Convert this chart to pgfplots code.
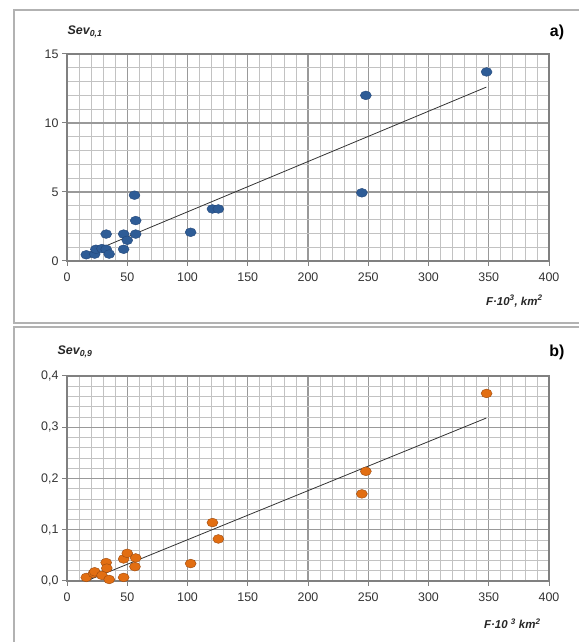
\documentclass[border=0pt]{standalone}
\usepackage{pgfplots}
\pgfplotsset{compat=1.18}
\usepackage{fontspec}
\setmainfont{Liberation Sans}
\definecolor{ptblue}{HTML}{2E5C96}
\definecolor{ptblueD}{HTML}{24487A}
\definecolor{ptorange}{HTML}{E26E12}
\definecolor{ptorangeD}{HTML}{9A4A10}
\pgfplotsset{
  panel/.style={
    scale only axis, width=482bp,
    xmin=0, xmax=400, xtick={0,50,...,400}, minor x tick num=4,
    grid=both,
    major grid style={black!40, line width=1.2bp},
    minor grid style={black!24, line width=0.8bp},
    axis line style={black!50, line width=1.2bp},
    tick align=outside, xtick pos=left, ytick pos=left,
    major tick length=5bp, minor tick length=0pt,
    major tick style={black!50, line width=1bp},
    tick label style={font=\fontsize{12.5}{14}\selectfont, text=black!80},
    /pgf/number format/assume math mode=true,
    xticklabel style={yshift=-3bp},
    clip=false,
  }
}
\begin{document}
\begin{tikzpicture}[x=1bp,y=1bp]
\useasboundingbox (0,0) rectangle (579,642);
% panel frames
\draw[black!30, line width=2.2bp] (14,632) rectangle (590,319);
\draw[black!30, line width=2.2bp] (14,315) rectangle (590,-10);
% ---------- panel a ----------
\begin{axis}[panel, at={(67bp,381bp)}, anchor=south west, height=207bp,
  ymin=0, ymax=15, ytick={0,5,10,15}, minor y tick num=4]
\addplot[black!80, line width=0.8bp] coordinates {(16,0.5) (348,12.6)};
\addplot[only marks, mark=*, mark size=4.4bp,
  mark options={fill=ptblue, draw=ptblueD, xscale=1.25}] coordinates {
(16,0.45) (23,0.5) (24,0.85) (29,0.9) (32.5,1.95) (32.5,0.85) (35,0.5)
(47,0.85) (47,1.95) (50,1.5) (56,4.77) (57,2.93) (57,1.95)
(102.6,2.08) (120.7,3.77) (125.6,3.77) (244.7,4.94) (248,12.0) (348.2,13.7)
};
\end{axis}
\node[anchor=center, font=\fontsize{12.5}{14}\selectfont\bfseries\itshape, text=black!85] at (85,610) {Sev\textsubscript{0,1}};
\node[anchor=center, font=\fontsize{16}{18}\selectfont\bfseries] at (557,610) {a)};
\node[anchor=east, font=\fontsize{11.5}{13}\selectfont\bfseries\itshape, text=black!85] at (546,341) {F·10\textsuperscript{3}, km\textsuperscript{2}};
% ---------- panel b ----------
\begin{axis}[panel, at={(67bp,61bp)}, anchor=south west, height=205bp,
  ymin=0, ymax=0.4, ytick={0,0.1,0.2,0.3,0.4}, minor y tick num=4,
  yticklabel style={/pgf/number format/.cd, fixed, fixed zerofill, precision=1, use comma}]
\addplot[black!80, line width=0.8bp] coordinates {(16,0.0) (348,0.318)};
\addplot[only marks, mark=*, mark size=4.4bp,
  mark options={fill=ptorange, draw=ptorangeD, xscale=1.25}] coordinates {
(16,0.007) (22,0.015) (23,0.018) (29,0.011) (32.5,0.036) (33,0.025) (35,0.003)
(47,0.007) (47,0.043) (50,0.054) (57,0.045) (56.4,0.028)
(102.6,0.034) (120.7,0.114) (125.6,0.082) (244.7,0.170) (248,0.214) (348.2,0.366)
};
\end{axis}
\node[anchor=center, font=\fontsize{12.5}{14}\selectfont\bfseries\itshape, text=black!85] at (75,290) {Sev\textsubscript{0,9}};
\node[anchor=center, font=\fontsize{16}{18}\selectfont\bfseries] at (557,290) {b)};
\node[anchor=east, font=\fontsize{11.5}{13}\selectfont\bfseries\itshape, text=black!85] at (544,18) {F·10 \textsuperscript{3} km\textsuperscript{2}};
\end{tikzpicture}
\end{document}
